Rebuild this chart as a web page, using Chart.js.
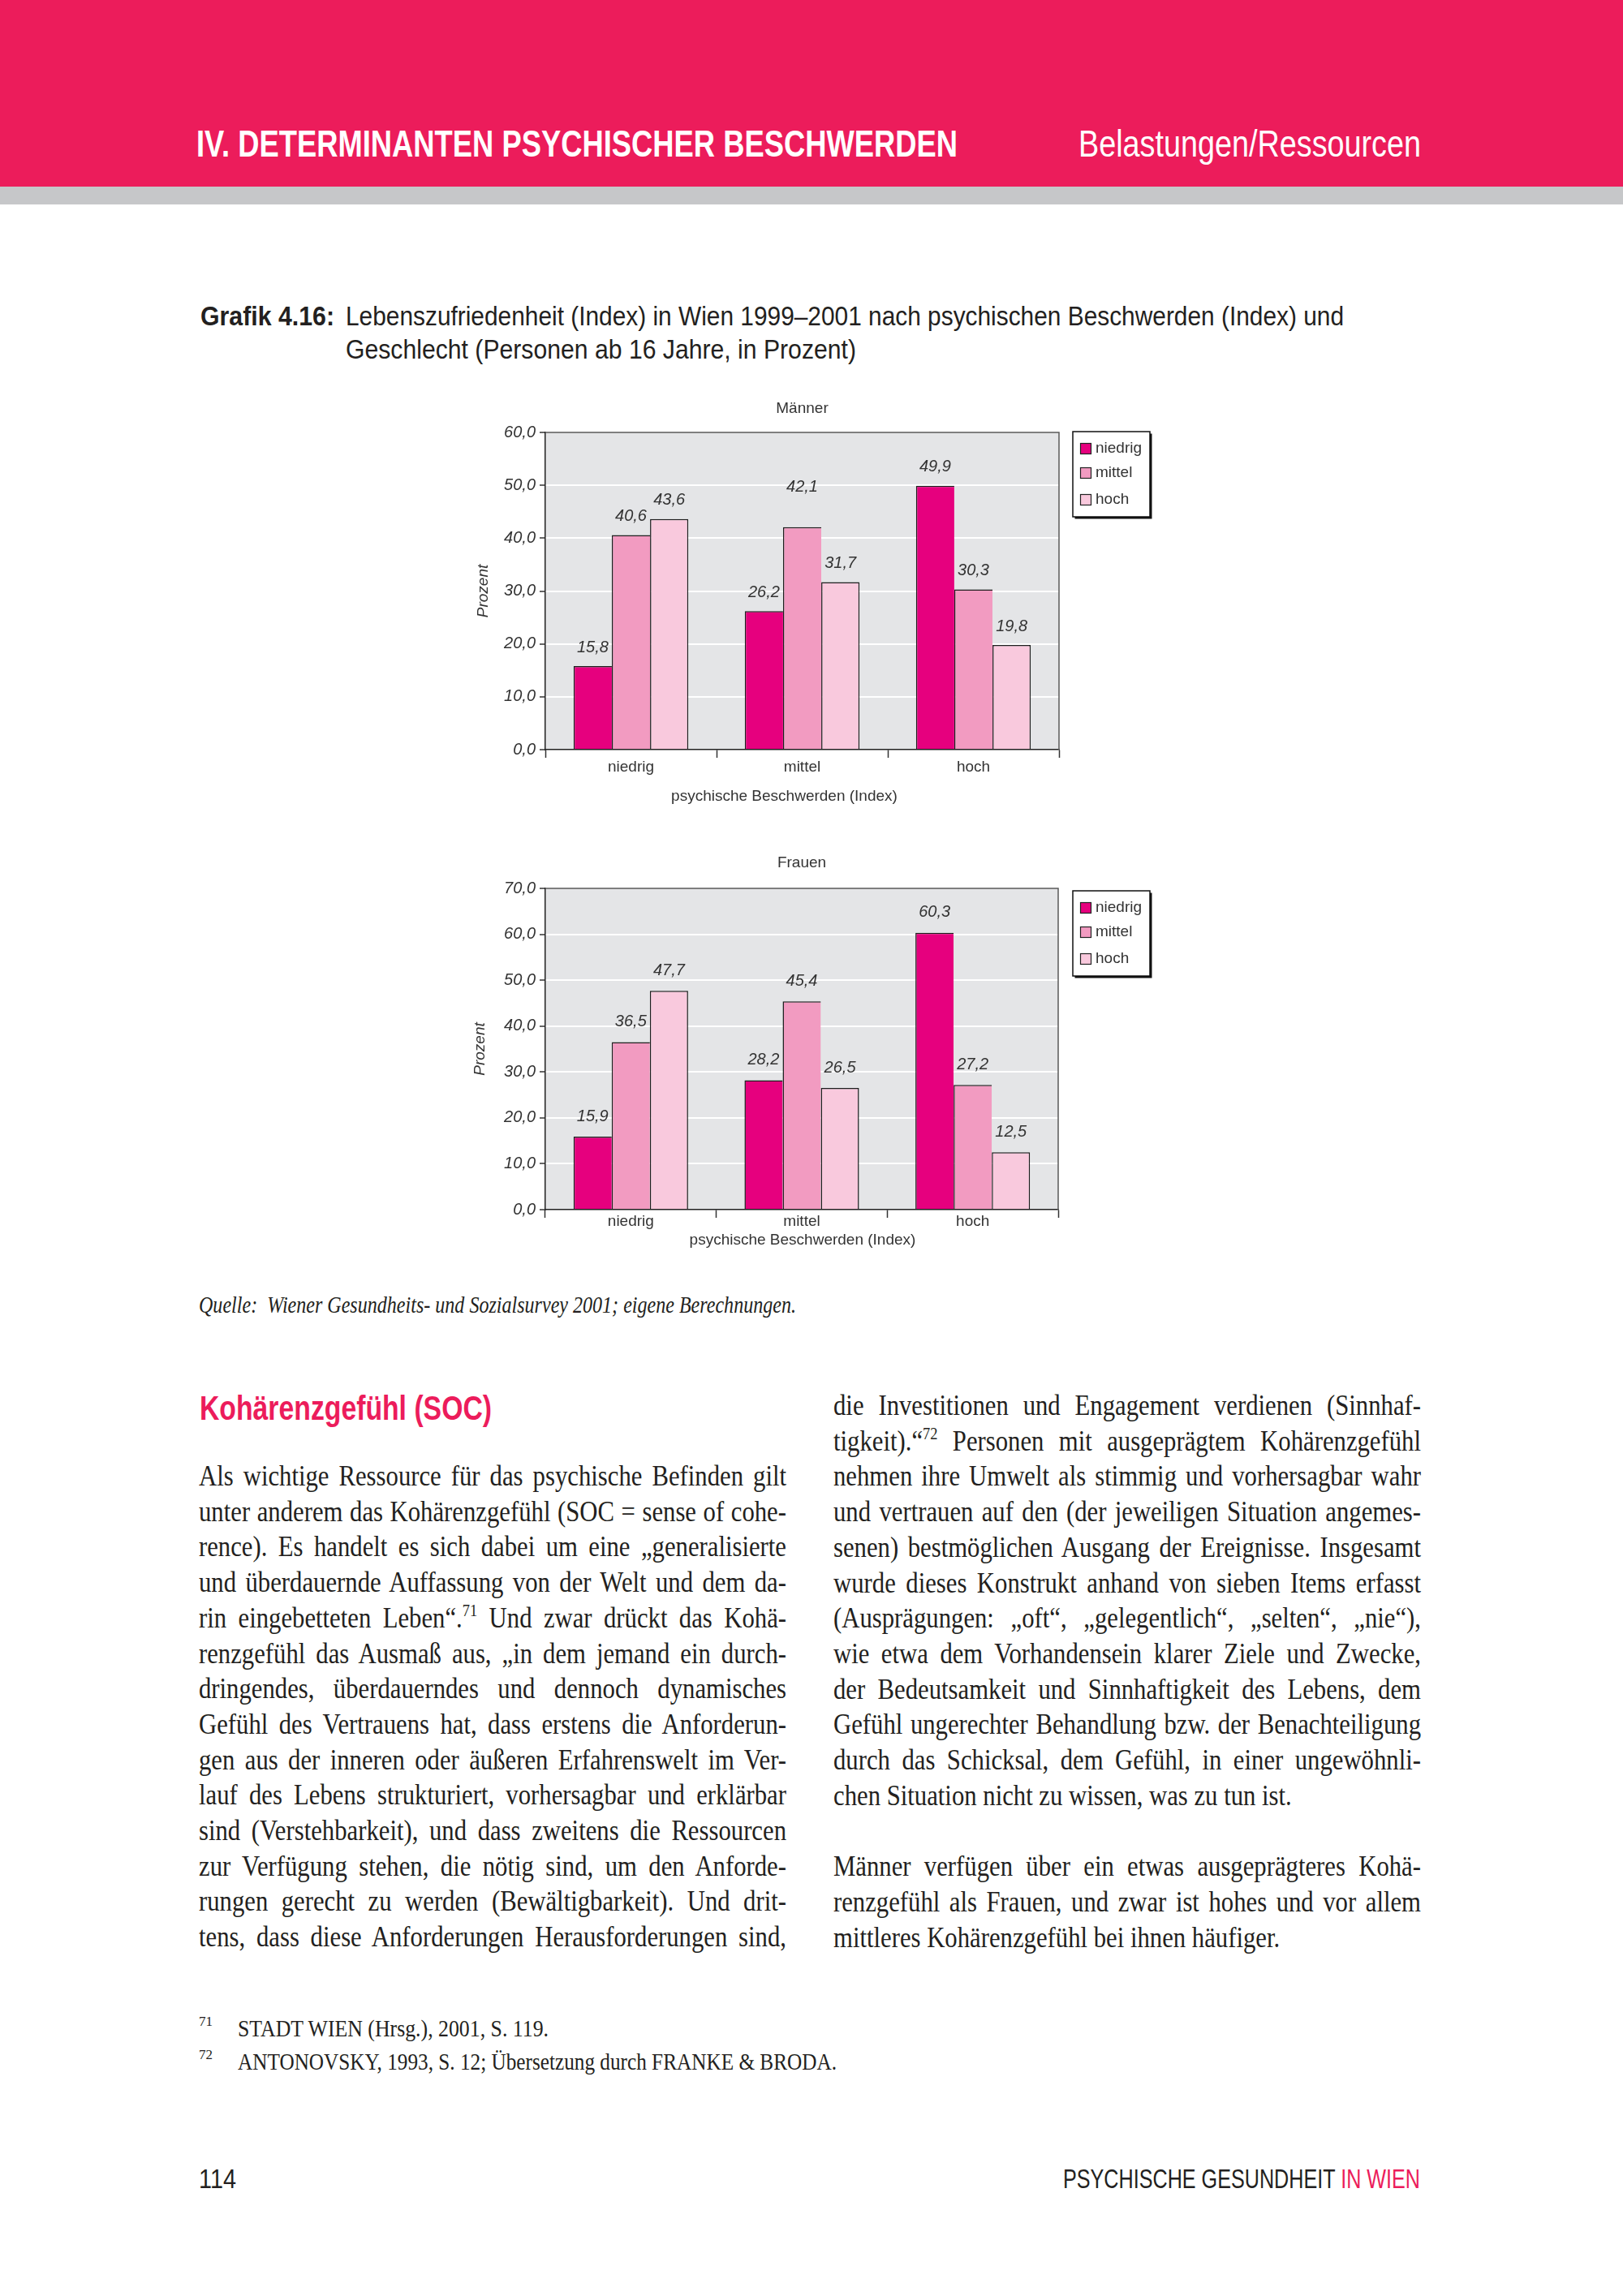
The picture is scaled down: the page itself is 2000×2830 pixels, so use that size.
<!DOCTYPE html>
<html>
<head>
<meta charset="utf-8">
<script src="https://cdn.jsdelivr.net/npm/chart.js@4.4.0/dist/chart.umd.min.js"></script>
<style>
html, body { margin: 0; padding: 0; background: #fff; }
body { width: 2000px; height: 2830px; position: relative; overflow: hidden; color: #231f20; font-family: 'Liberation Sans', Arial, sans-serif; }
#band { position: absolute; left: 0; top: 0; width: 2000px; height: 230px; background: #ec1c5b; }
#band2 { position: absolute; left: 0; top: 230px; width: 2000px; height: 22px; background: #c6c7c9; }
.t { position: absolute; white-space: nowrap; display: inline-block; transform-origin: 0 50%; }
.serif { font-family: 'Liberation Serif', 'Times New Roman', serif; }
.line { position: absolute; font-family: 'Liberation Serif', 'Times New Roman', serif; transform-origin: 0 50%; }
.line sup, .t sup { font-size: 0.6em; line-height: 0; vertical-align: 0.65em; }
canvas { position: absolute; }
</style>
</head>
<body>
<div id="band"></div>
<div id="band2"></div>
<canvas id="maenner" width="900" height="520" style="left:540px;top:480px"></canvas>
<canvas id="frauen" width="900" height="520" style="left:540px;top:1040px"></canvas>

<script>
// Kategorien (psychische Beschwerden) und Serien (Lebenszufriedenheit)
var categories = ['niedrig', 'mittel', 'hoch'];
var seriesNames = ['niedrig', 'mittel', 'hoch'];

// Männer
var maennerNiedrig = [15.8, 26.2, 49.9];
var maennerMittel = [40.6, 42.1, 30.3];
var maennerHoch = [43.6, 31.7, 19.8];
var maennerMax = 60;

// Frauen
var frauenNiedrig = [15.9, 28.2, 60.3];
var frauenMittel = [36.5, 45.4, 27.2];
var frauenHoch = [47.7, 26.5, 12.5];
var frauenMax = 70;

var barColors = ['#e6007e', '#f29bc1', '#f9c9dd'];
var FONT = "'Liberation Sans', Arial, sans-serif";

function fmt(v) { return Number(v).toFixed(1).replace('.', ','); }

var pagePlugin = {
  id: 'pagePlugin',
  beforeDraw: function(chart) {
    var a = chart.chartArea, ctx = chart.ctx;
    ctx.save();
    ctx.fillStyle = '#e4e5e7';
    ctx.fillRect(a.left, a.top, a.right - a.left, a.bottom - a.top);
    ctx.restore();
  },
  afterDatasetsDraw: function(chart, args, opts) {
    var ctx = chart.ctx;
    ctx.save();
    ctx.font = 'italic 20px ' + FONT;
    ctx.fillStyle = '#333';
    ctx.textAlign = 'center';
    ctx.textBaseline = 'middle';
    chart.data.datasets.forEach(function(ds, i) {
      chart.getDatasetMeta(i).data.forEach(function(bar, j) {
        var extra = (opts.extra && opts.extra[i + ':' + j]) || 0;
        ctx.fillText(fmt(ds.data[j]), bar.x, bar.y - opts.lift - extra);
      });
    });
    ctx.restore();
  },
  afterDraw: function(chart, args, opts) {
    var a = chart.chartArea, ctx = chart.ctx;
    ctx.save();
    // chart title
    ctx.font = '19px ' + FONT;
    ctx.fillStyle = '#333';
    ctx.textAlign = 'center';
    ctx.textBaseline = 'middle';
    ctx.fillText(opts.title, (a.left + a.right) / 2, opts.titleY);
    // x axis title
    ctx.fillText('psychische Beschwerden (Index)', (a.left + a.right) / 2 + opts.xTitleShift, opts.xTitleY);
    // top / right frame of the plot
    ctx.strokeStyle = '#5a5a5a';
    ctx.lineWidth = 1.5;
    ctx.beginPath();
    ctx.moveTo(a.left, a.top);
    ctx.lineTo(a.right, a.top);
    ctx.lineTo(a.right, a.bottom);
    ctx.stroke();
    // legend box
    var L = opts.legend;
    ctx.fillStyle = '#111';
    ctx.fillRect(L.x + 2.5, L.y + 2.5, L.w, L.h);
    ctx.fillStyle = '#fff';
    ctx.fillRect(L.x, L.y, L.w, L.h);
    ctx.strokeStyle = '#111';
    ctx.lineWidth = 1.5;
    ctx.strokeRect(L.x, L.y, L.w, L.h);
    ctx.font = '19px ' + FONT;
    ctx.textAlign = 'left';
    var rows = [21, 51, 84];
    chart.data.datasets.forEach(function(ds, i) {
      var cy = L.y + rows[i];
      ctx.fillStyle = ds.backgroundColor;
      ctx.fillRect(L.x + 9.5, cy - 6.5, 13, 13);
      ctx.strokeStyle = '#222';
      ctx.lineWidth = 1.2;
      ctx.strokeRect(L.x + 9.5, cy - 6.5, 13, 13);
      ctx.fillStyle = '#333';
      ctx.fillText(ds.label, L.x + 28, cy);
    });
    ctx.restore();
  }
};

function makeChart(id, title, sets, yMax, lay) {
  var ctx = document.getElementById(id).getContext('2d');
  return new Chart(ctx, {
    type: 'bar',
    data: {
      labels: categories,
      datasets: sets.map(function(d, i) {
        return {
          label: seriesNames[i],
          data: d,
          backgroundColor: barColors[i],
          borderColor: '#1e1e1e',
          borderWidth: { top: 1.5, left: 1.5, right: i === 2 ? 1.5 : 0, bottom: 0 },
          borderSkipped: false,
          categoryPercentage: 0.67,
          barPercentage: 1
        };
      })
    },
    plugins: [pagePlugin],
    options: {
      responsive: false,
      animation: false,
      layout: { padding: { left: 0, right: lay.padRight, top: lay.padTop, bottom: 0 } },
      plugins: {
        legend: { display: false },
        tooltip: { enabled: false },
        title: { display: false },
        pagePlugin: {
          title: title, titleY: 24, xTitleY: lay.xTitleY, xTitleShift: lay.xTitleShift,
          lift: lay.lift, extra: lay.extra, legend: lay.legend
        }
      },
      scales: {
        x: {
          ticks: { color: '#333', padding: lay.xPad, font: { family: FONT, size: 19 } },
          grid: { drawOnChartArea: false, offset: true, tickColor: '#333', tickLength: 10, tickWidth: 1.5 },
          border: { color: '#222', width: 1.5 },
          afterFit: function(s) { s.height = lay.xHeight; }
        },
        y: {
          min: 0, max: yMax,
          ticks: {
            stepSize: 10, color: '#333', padding: 5,
            font: { family: FONT, size: 20, style: 'italic' },
            callback: function(v) { return fmt(v); }
          },
          grid: {
            color: function(c) { return (c.tick && (c.tick.value === 0 || c.tick.value === yMax)) ? 'rgba(0,0,0,0)' : '#ffffff'; },
            lineWidth: 2, tickColor: '#333', tickLength: 7, tickWidth: 1.5
          },
          border: { color: '#222', width: 1.5 },
          title: {
            display: true, text: 'Prozent', color: '#333',
            font: { family: FONT, size: 19, style: 'italic' },
            padding: { top: lay.yTitlePad, bottom: 0 }
          },
          afterFit: function(s) { s.width = 132; }
        }
      }
    }
  });
}

makeChart('maenner', 'Männer', [maennerNiedrig, maennerMittel, maennerHoch], maennerMax, {
  padRight: 135, padTop: 53, xHeight: 76, xPad: 0, xTitleY: 502, xTitleShift: -22, yTitlePad: 44,
  lift: 23, extra: { '1:1': 26 }, legend: { x: 782, y: 52, w: 95, h: 105 }
});
makeChart('frauen', 'Frauen', [frauenNiedrig, frauenMittel, frauenHoch], frauenMax, {
  padRight: 136, padTop: 55, xHeight: 69, xPad: -7, xTitleY: 489, xTitleShift: 1, yTitlePad: 40,
  lift: 25, extra: {}, legend: { x: 782, y: 58, w: 95, h: 105 }
});

// ---- page text ----
function put(html, x, cy, size, w, style, cls) {
  var el = document.createElement('div');
  el.className = 't' + (cls ? ' ' + cls : '');
  el.innerHTML = html;
  el.style.left = x + 'px';
  el.style.fontSize = size + 'px';
  el.style.lineHeight = (size * 1.2) + 'px';
  el.style.top = (cy - size * 0.6) + 'px';
  if (style) el.style.cssText += ';' + style;
  if (w) el.setAttribute('data-w', w);
  document.body.appendChild(el);
  return el;
}

put('IV. DETERMINANTEN PSYCHISCHER BESCHWERDEN', 242, 178, 46, 938, 'color:#fff;font-weight:bold');
put('Belastungen/Ressourcen', 1329, 178, 46, 422, 'color:#fff');

put('Grafik 4.16:', 247, 390, 33, 165, 'font-weight:bold');
put('Lebenszufriedenheit (Index) in Wien 1999–2001 nach psychischen Beschwerden (Index) und', 426, 390, 33, 1230);
put('Geschlecht (Personen ab 16 Jahre, in Prozent)', 426, 431, 33, 629);

put('Quelle:&nbsp; Wiener Gesundheits- und Sozialsurvey 2001; eigene Berechnungen.', 245, 1608, 29, 736, 'font-style:italic', 'serif');

put('Kohärenzgefühl (SOC)', 246, 1736, 43, 360, 'color:#ec1c5b;font-weight:bold');

put('71', 245, 2492, 17, 0, '', 'serif');
put('STADT WIEN (Hrsg.), 2001, S. 119.', 293, 2500, 29, 383, '', 'serif');
put('72', 245, 2533, 17, 0, '', 'serif');
put('ANTONOVSKY, 1993, S. 12; Übersetzung durch FRANKE &amp; BRODA.', 293, 2541, 29, 738, '', 'serif');

put('114', 245, 2686, 33, 46);
put('PSYCHISCHE GESUNDHEIT <span style="color:#ec1c5b">IN WIEN</span>', 1310, 2686, 33, 440);

// body text, line by line (justified)
var col1 = [
  'Als wichtige Ressource für das psychische Befinden gilt',
  'unter anderem das Kohärenzgefühl (SOC = sense of cohe-',
  'rence). Es handelt es sich dabei um eine „generalisierte',
  'und überdauernde Auffassung von der Welt und dem da-',
  'rin eingebetteten Leben“.<sup>71</sup> Und zwar drückt das Kohä-',
  'renzgefühl das Ausmaß aus, „in dem jemand ein durch-',
  'dringendes, überdauerndes und dennoch dynamisches',
  'Gefühl des Vertrauens hat, dass erstens die Anforderun-',
  'gen aus der inneren oder äußeren Erfahrenswelt im Ver-',
  'lauf des Lebens strukturiert, vorhersagbar und erklärbar',
  'sind (Verstehbarkeit), und dass zweitens die Ressourcen',
  'zur Verfügung stehen, die nötig sind, um den Anforde-',
  'rungen gerecht zu werden (Bewältigbarkeit). Und drit-',
  'tens, dass diese Anforderungen Herausforderungen sind,'
];
var col2 = [
  'die Investitionen und Engagement verdienen (Sinnhaf-',
  'tigkeit).“<sup>72</sup> Personen mit ausgeprägtem Kohärenzgefühl',
  'nehmen ihre Umwelt als stimmig und vorhersagbar wahr',
  'und vertrauen auf den (der jeweiligen Situation angemes-',
  'senen) bestmöglichen Ausgang der Ereignisse. Insgesamt',
  'wurde dieses Konstrukt anhand von sieben Items erfasst',
  '(Ausprägungen: „oft“, „gelegentlich“, „selten“, „nie“),',
  'wie etwa dem Vorhandensein klarer Ziele und Zwecke,',
  'der Bedeutsamkeit und Sinnhaftigkeit des Lebens, dem',
  'Gefühl ungerechter Behandlung bzw. der Benachteiligung',
  'durch das Schicksal, dem Gefühl, in einer ungewöhnli-',
  'chen Situation nicht zu wissen, was zu tun ist.',
  '',
  'Männer verfügen über ein etwas ausgeprägteres Kohä-',
  'renzgefühl als Frauen, und zwar ist hohes und vor allem',
  'mittleres Kohärenzgefühl bei ihnen häufiger.'
];
var lastLines2 = [11, 15];

var BODY_W = 724, BODY_SIZE = 35, PITCH = 43.7;
var bodyLines = [];
function addLine(html, x, cy, justify) {
  if (!html) return;
  var el = document.createElement('div');
  el.className = 'line';
  el.innerHTML = html;
  el.style.left = x + 'px';
  el.style.fontSize = BODY_SIZE + 'px';
  el.style.lineHeight = '40px';
  el.style.top = (cy - 20 - 3) + 'px';
  el.style.whiteSpace = 'nowrap';
  document.body.appendChild(el);
  bodyLines.push({ el: el, justify: justify });
}
col1.forEach(function(s, i) { addLine(s, 245, 1823 + PITCH * i, true); });
col2.forEach(function(s, i) { addLine(s, 1027, 1736 + PITCH * i, lastLines2.indexOf(i) < 0); });

function layoutText() {
  document.querySelectorAll('[data-w]').forEach(function(el) {
    var w = parseFloat(el.getAttribute('data-w'));
    if (!w) return;
    el.style.transform = 'none';
    var nat = el.getBoundingClientRect().width;
    el.style.transform = 'scaleX(' + (w / nat) + ')';
  });
  // reset, measure natural widths, then one common condensing factor
  bodyLines.forEach(function(b) {
    b.el.style.transform = 'none';
    b.el.style.width = 'auto';
    b.el.style.whiteSpace = 'nowrap';
    b.el.style.textAlign = 'left';
    b.el.style.textAlignLast = 'auto';
  });
  var c = 1;
  bodyLines.forEach(function(b) {
    var nat = b.el.getBoundingClientRect().width;
    if (b.justify) c = Math.min(c, BODY_W / nat);
  });
  c = c * 0.99;
  bodyLines.forEach(function(b) {
    b.el.style.width = (BODY_W / c) + 'px';
    b.el.style.whiteSpace = 'normal';
    b.el.style.textAlign = b.justify ? 'justify' : 'left';
    b.el.style.textAlignLast = b.justify ? 'justify' : 'left';
    b.el.style.transform = 'scaleX(' + c + ')';
  });
}
layoutText();
if (document.fonts && document.fonts.ready) {
  document.fonts.ready.then(layoutText);
}
</script>
</body>
</html>
